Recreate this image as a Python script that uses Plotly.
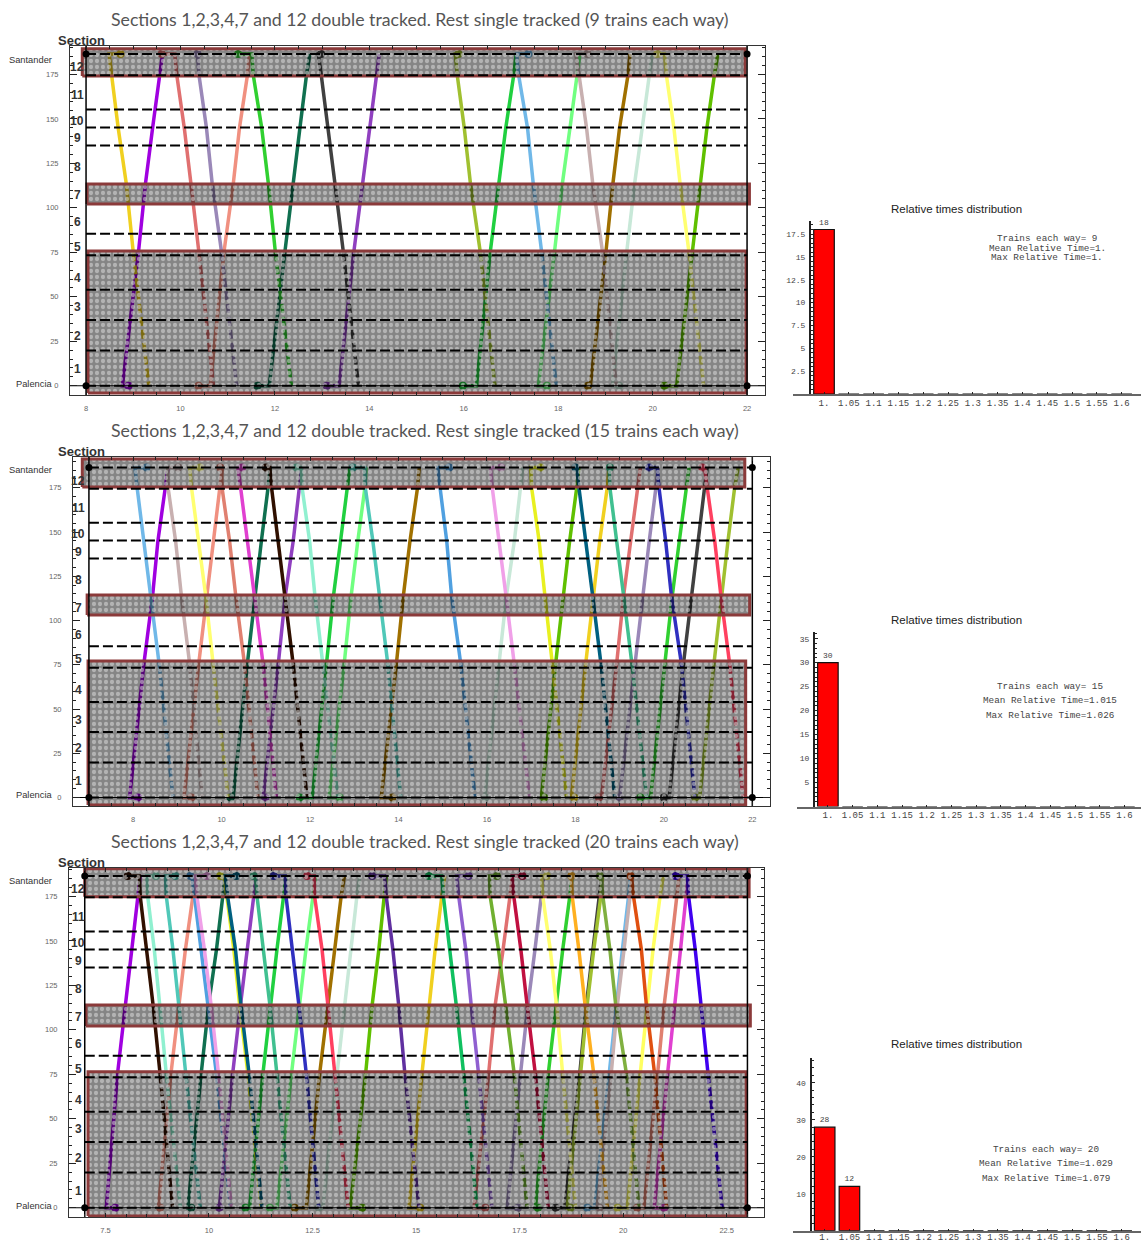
import plotly.graph_objects as go

W, H = 1141, 1242

# ---------- train data (hours at the listed km) ----------
UP_KM = [0, 0, 75, 114, 145, 175, 186.5]
DOWN_KM = [186.5, 186.5, 175, 145, 114, 75, 0]

UP1 = [
 ("#a000e0", [8.90, 8.77, 9.11, 9.26, 9.41, 9.55, 9.62]),
 ("#f09080", [10.38, 10.63, 10.92, 11.12, 11.25, 11.42, 11.46]),
 ("#107050", [11.63, 11.88, 12.21, 12.38, 12.53, 12.67, 12.74]),
 ("#9040c0", [13.10, 13.36, 13.67, 13.86, 14.01, 14.15, 14.21]),
 ("#20d040", [15.98, 16.27, 16.56, 16.74, 16.89, 17.06, 17.11]),
 ("#70ff80", [17.76, 17.58, 17.92, 18.09, 18.25, 18.41, 18.46]),
 ("#a07000", [18.63, 18.68, 19.01, 19.16, 19.30, 19.48, 19.52]),
 ("#c8e8d8", [19.29, 19.15, 19.45, 19.62, 19.78, 19.94, 19.99]),
 ("#60c000", [20.25, 20.51, 20.84, 21.01, 21.15, 21.31, 21.38]),
]
DOWN1 = [
 ("#f0d020", [8.73, 8.49, 8.54, 8.68, 8.85, 9.00, 9.33]),
 ("#e07070", [9.60, 9.88, 9.92, 10.08, 10.22, 10.39, 10.70]),
 ("#9a88b8", [10.36, 10.36, 10.39, 10.55, 10.67, 10.87, 11.19]),
 ("#30d030", [11.22, 11.51, 11.54, 11.72, 11.86, 12.01, 12.35]),
 ("#404040", [12.98, 12.92, 12.98, 13.13, 13.27, 13.45, 13.77]),
 ("#a0c030", [15.89, 15.82, 15.86, 16.01, 16.14, 16.35, 16.66]),
 ("#70b8e8", [17.37, 17.12, 17.16, 17.35, 17.47, 17.65, 17.96]),
 ("#c8b0b0", [18.62, 18.37, 18.44, 18.60, 18.73, 18.94, 19.23]),
 ("#ffff70", [20.10, 20.25, 20.29, 20.45, 20.58, 20.77, 21.08]),
]
UP2 = [
 ("#a000e0", [8.11, 7.92, 8.24, 8.44, 8.56, 8.73, 8.79]),
 ("#f09080", [9.32, 9.15, 9.48, 9.66, 9.81, 9.96, 10.02]),
 ("#107050", [10.20, 10.26, 10.58, 10.75, 10.90, 11.05, 11.10]),
 ("#9040c0", [10.99, 10.94, 11.28, 11.44, 11.62, 11.77, 11.81]),
 ("#20d040", [11.77, 12.05, 12.37, 12.53, 12.69, 12.84, 12.90]),
 ("#70ff80", [12.67, 12.43, 12.77, 12.93, 13.08, 13.24, 13.27]),
 ("#a07000", [13.86, 13.61, 13.95, 14.11, 14.26, 14.43, 14.47]),
 ("#c8e8d8", [15.97, 15.95, 16.27, 16.44, 16.62, 16.75, 16.81]),
 ("#60c000", [17.29, 17.23, 17.55, 17.72, 17.87, 18.03, 18.08]),
 ("#f0d020", [17.97, 17.91, 18.23, 18.40, 18.55, 18.72, 18.76]),
 ("#e07070", [18.53, 18.59, 18.93, 19.09, 19.25, 19.40, 19.47]),
 ("#9a88b8", [19.00, 19.00, 19.34, 19.52, 19.67, 19.82, 19.87]),
 ("#30d030", [19.47, 19.70, 20.02, 20.19, 20.35, 20.50, 20.57]),
 ("#404040", [20.00, 20.12, 20.44, 20.62, 20.77, 20.92, 20.98]),
 ("#a0c030", [20.71, 20.81, 21.13, 21.30, 21.45, 21.60, 21.68]),
]
DOWN2 = [
 ("#70b8e8", [8.30, 8.04, 8.09, 8.24, 8.41, 8.59, 8.90]),
 ("#c8b0b0", [9.02, 8.78, 8.79, 8.96, 9.09, 9.28, 9.56]),
 ("#ffff70", [9.51, 9.28, 9.32, 9.48, 9.64, 9.81, 10.15]),
 ("#e08070", [9.97, 10.00, 10.01, 10.18, 10.32, 10.52, 10.82]),
 ("#e040d0", [10.46, 10.37, 10.43, 10.58, 10.73, 10.94, 11.24]),
 ("#301000", [11.00, 11.09, 11.13, 11.28, 11.43, 11.62, 11.93]),
 ("#90f0d0", [11.69, 11.80, 11.82, 11.99, 12.11, 12.29, 12.63]),
 ("#50c8b8", [12.97, 13.24, 13.25, 13.42, 13.57, 13.76, 14.05]),
 ("#50a0e0", [15.15, 14.89, 14.94, 15.09, 15.20, 15.41, 15.73]),
 ("#f0a0e8", [16.32, 16.08, 16.12, 16.28, 16.43, 16.62, 16.96]),
 ("#e8f020", [17.21, 16.99, 17.01, 17.18, 17.31, 17.48, 17.80]),
 ("#006080", [18.00, 18.03, 18.08, 18.24, 18.39, 18.58, 18.89]),
 ("#40c090", [18.78, 18.76, 18.78, 18.94, 19.09, 19.28, 19.61]),
 ("#3030c0", [19.67, 19.85, 19.89, 20.04, 20.17, 20.40, 20.70]),
 ("#ff4060", [20.87, 20.92, 20.98, 21.15, 21.29, 21.49, 21.79]),
]
UP3 = [
 ("#a000e0", [7.74, 7.52, 7.79, 7.98, 8.14, 8.28, 8.34]),
 ("#f09080", [8.82, 8.78, 9.08, 9.28, 9.43, 9.61, 9.65]),
 ("#107050", [9.57, 9.49, 9.81, 9.99, 10.18, 10.34, 10.39]),
 ("#9040c0", [10.25, 10.25, 10.57, 10.76, 10.92, 11.09, 11.14]),
 ("#20d040", [10.88, 10.98, 11.30, 11.48, 11.64, 11.80, 11.86]),
 ("#70ff80", [11.47, 11.64, 11.99, 12.18, 12.34, 12.51, 12.57]),
 ("#a07000", [12.07, 12.35, 12.67, 12.87, 13.04, 13.19, 13.27]),
 ("#c8e8d8", [12.65, 12.75, 13.09, 13.27, 13.43, 13.57, 13.64]),
 ("#60c000", [13.70, 13.41, 13.78, 13.94, 14.10, 14.22, 14.28]),
 ("#f0d020", [15.10, 14.83, 15.14, 15.32, 15.46, 15.62, 15.69]),
 ("#e07070", [16.67, 16.40, 16.75, 16.91, 17.10, 17.28, 17.33]),
 ("#9a88b8", [17.46, 17.20, 17.52, 17.70, 17.87, 18.02, 18.08]),
 ("#30d030", [17.94, 17.88, 18.19, 18.38, 18.54, 18.71, 18.77]),
 ("#404040", [18.37, 18.59, 18.95, 19.11, 19.27, 19.43, 19.48]),
 ("#a0c030", [18.73, 18.65, 18.97, 19.13, 19.29, 19.46, 19.50]),
 ("#70b8e8", [19.13, 19.31, 19.66, 19.83, 19.98, 20.13, 20.18]),
 ("#c8b0b0", [19.43, 19.37, 19.71, 19.86, 20.02, 20.17, 20.22]),
 ("#ffff60", [19.86, 20.10, 20.41, 20.59, 20.72, 20.89, 20.97]),
 ("#e08070", [20.34, 20.50, 20.83, 20.99, 21.15, 21.30, 21.35]),
 ("#e040d0", [20.99, 20.75, 21.07, 21.25, 21.39, 21.53, 21.57]),
]
DOWN3 = [
 ("#301000", [8.04, 8.32, 8.34, 8.50, 8.65, 8.82, 9.12]),
 ("#90f0d0", [8.72, 8.50, 8.52, 8.68, 8.81, 8.97, 9.31]),
 ("#50c8b8", [9.19, 8.95, 8.97, 9.13, 9.27, 9.44, 9.79]),
 ("#50a0e0", [9.55, 9.59, 9.65, 9.81, 9.99, 10.18, 10.52]),
 ("#f0a0e8", [9.95, 9.67, 9.71, 9.89, 10.05, 10.23, 10.54]),
 ("#e8f020", [10.27, 10.37, 10.43, 10.60, 10.74, 10.94, 11.26]),
 ("#006080", [10.66, 10.39, 10.45, 10.64, 10.77, 10.97, 11.28]),
 ("#40c090", [11.08, 11.12, 11.16, 11.32, 11.47, 11.64, 11.96]),
 ("#3030c0", [11.56, 11.84, 11.86, 12.02, 12.17, 12.35, 12.65]),
 ("#ff4060", [12.37, 12.54, 12.55, 12.73, 12.87, 13.04, 13.36]),
 ("#6030a0", [13.94, 14.24, 14.28, 14.44, 14.58, 14.73, 15.07]),
 ("#10c060", [15.31, 15.62, 15.66, 15.82, 15.97, 16.15, 16.47]),
 ("#9060d0", [16.27, 15.98, 16.03, 16.20, 16.33, 16.51, 16.83]),
 ("#70b030", [16.95, 16.77, 16.79, 16.99, 17.16, 17.37, 17.68]),
 ("#c01040", [17.57, 17.32, 17.36, 17.53, 17.68, 17.88, 18.19]),
 ("#ffff70", [18.16, 18.03, 18.06, 18.24, 18.39, 18.54, 18.85]),
 ("#ffb020", [18.75, 18.75, 18.77, 18.93, 19.08, 19.29, 19.62]),
 ("#80b040", [19.44, 19.46, 19.51, 19.68, 19.82, 20.08, 20.38]),
 ("#e05010", [20.18, 20.20, 20.25, 20.44, 20.56, 20.76, 21.05]),
 ("#4000f0", [21.27, 21.55, 21.58, 21.74, 21.88, 22.05, 22.39]),
]

DASH_KM = [186.5, 174.5, 155.3, 145.2, 135, 85.5, 73.3, 53.9, 37, 19.8, 0]
SECTION_LABELS = ["12", "11", "10", "9", "8", "7", "6", "5", "4", "3", "2", "1"]
SECTION_KM = [179, 163.5, 149, 139, 123, 107, 92, 78, 60.5, 44, 28, 9.5]

# rectangles: (h0, h1, km0, km1)
RECTS1 = [(7.92, 21.96, 174.2, 189.4), (8.02, 22.05, 102.2, 113.4), (8.04, 21.98, -4.1, 75.8)]
RECTS2 = [(6.85, 21.83, 175.4, 191.2), (6.96, 21.94, 103.1, 114.4), (6.98, 21.85, -4.2, 77.1)]
RECTS3 = [(7.00, 23.04, 174.8, 190.6), (7.03, 23.07, 102.2, 114.0), (7.08, 22.97, -4.6, 76.4)]

TRAINS_EACH_WAY = [9, 15, 20]
TITLE_FMT = "Sections 1,2,3,4,7 and 12 double tracked. Rest single tracked ({} trains each way)"

BINS = ["1.", "1.05", "1.1", "1.15", "1.2", "1.25", "1.3", "1.35", "1.4", "1.45", "1.5", "1.55", "1.6"]
COUNTS1 = [18, 0, 0, 0, 0, 0, 0, 0, 0, 0, 0, 0, 0]
COUNTS2 = [30, 0, 0, 0, 0, 0, 0, 0, 0, 0, 0, 0, 0]
COUNTS3 = [28, 12, 0, 0, 0, 0, 0, 0, 0, 0, 0, 0, 0]
YTICKS1 = [2.5, 5, 7.5, 10, 12.5, 15, 17.5]
YTICKS2 = [5, 10, 15, 20, 25, 30, 35]
YTICKS3 = [10, 20, 30, 40]
NOTES1 = ["Trains each way= 9", "Mean Relative Time=1.", "Max Relative Time=1."]
NOTES2 = ["Trains each way= 15", "Mean Relative Time=1.015", "Max Relative Time=1.026"]
NOTES3 = ["Trains each way= 20", "Mean Relative Time=1.029", "Max Relative Time=1.079"]

# ---------- layout geometry ----------
SANS = "Liberation Sans, Arial, sans-serif"
MONO = "Liberation Mono, Courier New, monospace"
TITLE_FONT = "Lato, Liberation Sans, sans-serif"

def px(x): return x / W
def py(y): return 1 - y / H

MAIN = [
 dict(dom=(70, 765, 46, 395), xr=(7.66, 22.38), yr=(-5.2, 191), dt=2, t0=8, ends=(8, 22),
      up=UP1, down=DOWN1, rects=RECTS1, title_x=419.5, title_y=20, sec_y=40, sant_y=60, pal_y=384, sec_x=77),
 dict(dom=(73, 770, 457, 806), xr=(6.64, 22.4), yr=(-4.8, 192.4), dt=2, t0=8, ends=(7, 22),
      up=UP2, down=DOWN2, rects=RECTS2, title_x=425, title_y=430, sec_y=451, sant_y=470, pal_y=795, sec_x=78),
 dict(dom=(69, 764, 868, 1217), xr=(6.62, 23.4), yr=(-5.2, 191), dt=2.5, t0=7.5, ends=(7, 23),
      up=UP3, down=DOWN3, rects=RECTS3, title_x=425, title_y=841, sec_y=862, sant_y=881, pal_y=1206, sec_x=78),
]
BARS = [
 dict(dom=(793, 1141, 221, 394), xr=(-1.25, 12.78), yr=(0, 18.93), axis=810, counts=COUNTS1, yt=YTICKS1, minor=0.5,
      notes=NOTES1, note_y=(238.5, 248, 257.5), title_y=209, note_x=1047, off=-1),
 dict(dom=(797, 1141, 632, 806.5), xr=(-1.25, 12.67), yr=(0, 36.4), axis=814, counts=COUNTS2, yt=YTICKS2, minor=1,
      notes=NOTES2, note_y=(686, 700.5, 715), title_y=620, note_x=1050, off=-1),
 dict(dom=(793, 1141, 1058, 1230.7), xr=(-1.28, 12.78), yr=(0, 46.7), axis=810.5, counts=COUNTS3, yt=YTICKS3, minor=2,
      notes=NOTES3, note_y=(1149, 1163.5, 1178), title_y=1044, note_x=1046, off=-4),
]

fig = go.Figure()
layout = dict(template="none", width=W, height=H, autosize=False, margin=dict(l=0, r=0, t=0, b=0, pad=0),
              paper_bgcolor="white", plot_bgcolor="white", showlegend=False, bargap=0.17)
ann = []

def text(x, y, s, size, color, family=SANS, xanchor="center", yanchor="middle"):
    ann.append(dict(text=s, x=px(x), y=py(y), xref="paper", yref="paper", showarrow=False,
                    xanchor=xanchor, yanchor=yanchor, font=dict(size=size, color=color, family=family),
                    borderpad=0))

for i, p in enumerate(MAIN):
    ax = "" if i == 0 else str(2 * i + 1)
    xa, ya = "x" + ax, "y" + ax
    x0, x1, y0, y1 = p["dom"]
    common = dict(automargin=False, showline=True, linecolor="#333", linewidth=1, mirror="ticks", ticks="inside",
                  tickcolor="#222", showgrid=False, zeroline=False,
                  tickfont=dict(size=7.5, color="#666", family=SANS))
    layout["xaxis" + ax] = dict(domain=[px(x0), px(x1)], range=list(p["xr"]), anchor=ya, dtick=p["dt"], tick0=p["t0"],
                                ticklen=4, ticklabelstandoff=6,
                                minor=dict(dtick=0.5, tick0=p["t0"], ticks="inside", ticklen=3, tickcolor="#222"), **common)
    layout["yaxis" + ax] = dict(domain=[py(y1), py(y0)], range=list(p["yr"]), anchor=xa, dtick=25, tick0=0,
                                ticklen=7, ticklabelstandoff=9,
                                minor=dict(dtick=5, ticks="inside", ticklen=3, tickcolor="#222"), **common)
    kw = dict(xaxis=xa, yaxis=ya, hoverinfo="skip", showlegend=False)

    # trains (below the translucent texture)
    for color, t in p["up"]:
        fig.add_trace(go.Scatter(x=t, y=UP_KM, mode="lines", line=dict(color=color, width=3.5), **kw))
        fig.add_trace(go.Scatter(x=t[:1], y=UP_KM[:1], mode="markers", marker=dict(color=color, size=8), **kw))
    for color, t in p["down"]:
        fig.add_trace(go.Scatter(x=t[:-1], y=DOWN_KM[:-1], mode="lines", line=dict(color=color, width=3.5), **kw))
        fig.add_trace(go.Scatter(x=t[-2:], y=DOWN_KM[-2:], mode="lines",
                                 line=dict(color=color, width=3.5, dash="9px,4px"), **kw))
        fig.add_trace(go.Scatter(x=t[:1], y=DOWN_KM[:1], mode="markers", marker=dict(color=color, size=8), **kw))

    # textured double-track bands
    for (h0, h1, k0, k1) in p["rects"]:
        fig.add_trace(go.Scatter(x=[h0, h1, h1, h0, h0], y=[k0, k0, k1, k1, k0], mode="lines", fill="toself",
                                 fillpattern=dict(shape=".", size=6, solidity=0.4, fgcolor="#d8d8d8", fgopacity=0.55,
                                                  bgcolor="rgba(0,0,0,0.48)"),
                                 line=dict(color="#8b3a3a", width=3), **kw))

    # section boundaries and stations
    a, b = p["ends"]
    for km in DASH_KM:
        fig.add_trace(go.Scatter(x=[a, b], y=[km, km], mode="lines",
                                 line=dict(color="black", width=2, dash="10px,4px"), **kw))
    fig.add_trace(go.Scatter(x=list(p["xr"]), y=[0, 0], mode="lines", line=dict(color="black", width=1), **kw))
    for h in p["ends"]:
        fig.add_trace(go.Scatter(x=[h, h], y=list(p["yr"]), mode="lines", line=dict(color="black", width=1.5), **kw))
    fig.add_trace(go.Scatter(x=[a, b, a, b], y=[186.5, 186.5, 0, 0], mode="markers",
                             marker=dict(color="black", size=7), **kw))

    text(p["title_x"], p["title_y"], TITLE_FMT.format(TRAINS_EACH_WAY[i]), 17.7, "#555", family=TITLE_FONT)
    text(81, p["sec_y"], "<b>Section</b>", 13, "#333")
    text(53, p["sant_y"], "Santander", 9.3, "#333", xanchor="right")
    text(53, p["pal_y"], "Palencia", 9.3, "#333", xanchor="right")
    for lab, km in zip(SECTION_LABELS, SECTION_KM):
        ann.append(dict(text="<b>%s</b>" % lab, x=px(p["sec_x"]), xref="paper", y=km, yref=ya, showarrow=False,
                        xanchor="center", yanchor="middle", font=dict(size=12, color="#333", family=SANS)))

for i, p in enumerate(BARS):
    n = 2 * i + 2
    ax = str(n)
    xa, ya = "x" + ax, "y" + ax
    x0, x1, y0, y1 = p["dom"]
    layout["xaxis" + ax] = dict(automargin=False, domain=[px(x0), px(x1)], range=list(p["xr"]), anchor=ya, type="category",
                                categoryorder="array", categoryarray=BINS, showline=True, linecolor="#666", linewidth=2,
                                ticks="inside", ticklen=2, tickcolor="#222", showgrid=False, zeroline=False,
                                ticklabelstandoff=p["off"], tickfont=dict(size=9, color="#444", family=MONO))
    layout["yaxis" + ax] = dict(automargin=False, domain=[py(y1), py(y0)], range=list(p["yr"]), anchor="free",
                                position=px(p["axis"]), tickmode="array", tickvals=p["yt"], ticktext=[str(v) for v in p["yt"]],
                                showline=True, linecolor="#222", linewidth=2, ticks="inside", ticklen=3, tickcolor="#222",
                                minor=dict(dtick=p["minor"], ticks="inside", ticklen=2, tickcolor="#222"),
                                showgrid=False, zeroline=False, ticklabelstandoff=2,
                                tickfont=dict(size=8, color="#444", family=MONO))
    fig.add_trace(go.Bar(x=BINS, y=p["counts"], xaxis=xa, yaxis=ya, hoverinfo="skip", showlegend=False,
                         marker=dict(color="#ff0000", line=dict(color="#111", width=1.2)),
                         text=[str(c) if c else "" for c in p["counts"]], textposition="outside",
                         textfont=dict(size=8, color="#444", family=MONO), cliponaxis=False))
    text(956, p["title_y"], "Relative times distribution", 11.5, "#222")
    for s, y in zip(p["notes"], p["note_y"]):
        text(p["note_x"], y, s, 9.3, "#444", family=MONO)

layout["annotations"] = ann
fig.update_layout(**layout)
fig.write_html("out.html", config={"displayModeBar": False},
               post_script="document.body.style.margin='0';document.body.style.overflow='hidden';")
